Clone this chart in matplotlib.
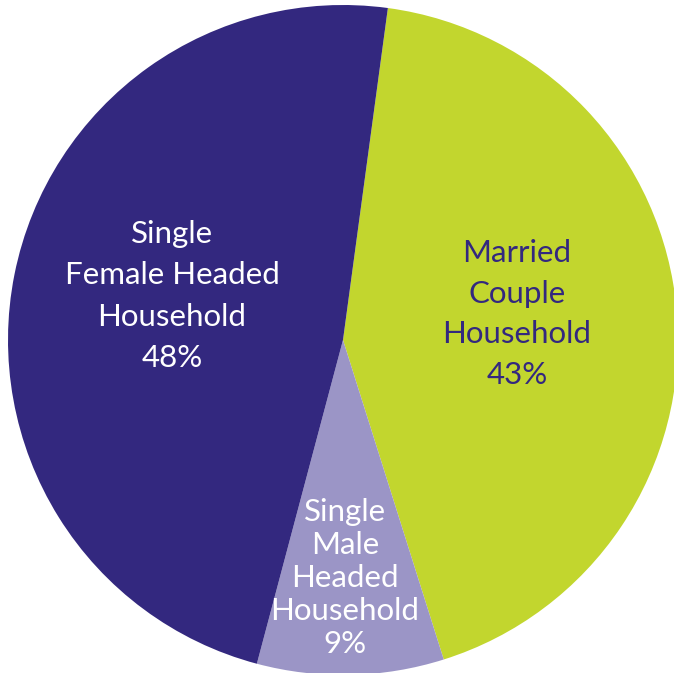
import matplotlib
matplotlib.use("Agg")
import matplotlib.pyplot as plt

categories = ["Married Couple Household", "Single Male Headed Household", "Single Female Headed Household"]
values = [43, 9, 48]
labels = ["Married\nCouple\nHousehold\n43%", "Single\nMale\nHeaded\nHousehold\n9%", "Single\nFemale Headed\nHousehold\n48%"]
colors = ["#C2D62E", "#9B95C6", "#33287F"]
text_colors = ["#33287F", "white", "white"]

W, H = 674, 673
cx, cy, R = 343, 340, 335
fig = plt.figure(figsize=(W/100, H/100), dpi=100)
ax = fig.add_axes([(cx-R)/W, (H-cy-R)/H, 2*R/W, 2*R/H])
ax.pie(values, colors=colors, startangle=82.3, counterclock=False, radius=1,
       wedgeprops=dict(linewidth=0))
ax.set_xlim(-1, 1)
ax.set_ylim(-1, 1)
ax.set_aspect("equal")
ax.axis("off")

def px(x, y):
    return (x-cx)/R, (cy-y)/R

pos = [px(517, 314), px(345, 578), px(172, 296)]
spacing = [1.56, 1.21, 1.57]
for lab, p, tc, ls in zip(labels, pos, text_colors, spacing):
    ax.text(p[0], p[1], lab, ha="center", va="center", color=tc, fontsize=22.5,
            family="Lato", linespacing=ls, multialignment="center")

fig.savefig("out.png", dpi=100)
